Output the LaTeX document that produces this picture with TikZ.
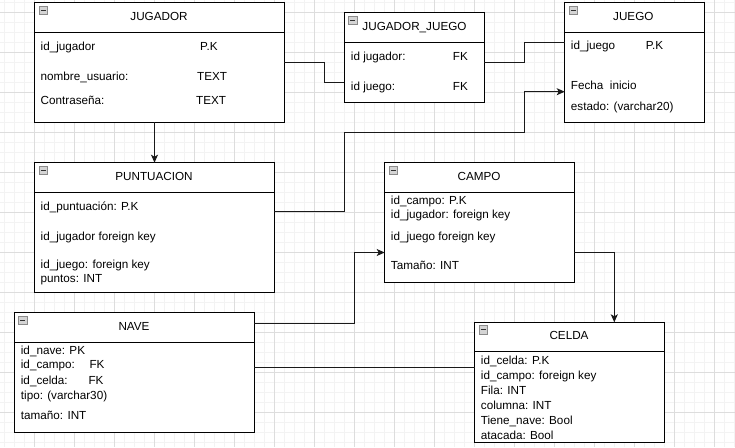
\documentclass[tikz,border=0pt]{standalone}
\usepackage{fontspec}
\setmainfont{Liberation Sans}
\usetikzlibrary{arrows.meta,calc}
\definecolor{gridminor}{HTML}{F3F3F3}
\definecolor{gridmajor}{HTML}{DDDDDD}
\definecolor{icofill}{HTML}{D4D4D4}
\definecolor{icodraw}{HTML}{8A8A8A}
\newcommand\ertable[7]{%
  \node[tbl,minimum width={#4-#2},minimum height={#5-#3}] (#1) at (#2,#3) {};
  \draw[line width=1pt] (#2,#3+29.6) -- (#4,#3+29.6);
  \node[ico] (#1i) at (#2+4.3,#3+3.3) {};
  \draw[line width=1.2pt,black!80] ($(#1i.west)+(1.8,0)$) -- ($(#1i.east)+(-1.8,0)$);
  \node[ttl] (#1t) at (#7,#3+14.3) {#6};}
\begin{document}
\begin{tikzpicture}[x=1pt,y=-1pt,
  tbl/.style={draw=black,line width=1pt,fill=white,inner sep=0,outer sep=0,anchor=north west},
  fld/.style={anchor=west,inner sep=0,font=\fontsize{11.7}{13}\selectfont,text height=8.5pt,text depth=2.5pt},
  ttl/.style={inner sep=0,font=\fontsize{11.7}{13}\selectfont,text height=8.5pt,text depth=2.5pt},
  conn/.style={line width=1pt,draw=black!90},
  arr/.style={conn,-{Stealth[length=8pt,width=7pt,inset=2pt]}},
  ico/.style={draw=icodraw,fill=icofill,line width=0.7pt,minimum size=8.5pt,inner sep=0,outer sep=0,anchor=north west}]
\useasboundingbox (0,0) rectangle (735,447);
\fill[white] (0,0) rectangle (735,447);
% grid
\foreach \x in {4.3,14.3,...,734.3} \draw[gridminor,line width=0.8pt] (\x,0) -- (\x,447);
\foreach \y in {2.3,12.3,...,446.3} \draw[gridminor,line width=0.8pt] (0,\y) -- (735,\y);
\foreach \x in {34.3,74.3,...,714.3} \draw[gridmajor,line width=0.8pt] (\x,0) -- (\x,447);
\foreach \y in {12.3,52.3,...,412.3} \draw[gridmajor,line width=0.8pt] (0,\y) -- (735,\y);

% tables
\ertable{jug}{34.7}{2.7}{284.3}{122}{JUGADOR}{159}
\ertable{jj}{344.3}{12.7}{484.3}{102}{JUGADOR\_JUEGO}{414.5}
\ertable{juego}{564.7}{2.7}{704.3}{122}{JUEGO}{633.3}
\ertable{punt}{34.7}{162.7}{274.3}{292.3}{PUNTUACION}{154}
\ertable{campo}{384.7}{162.7}{574.3}{282.3}{CAMPO}{479}
\ertable{nave}{14.3}{312.7}{254.3}{432.3}{NAVE}{134}
\ertable{celda}{474.7}{322.3}{664.3}{442.3}{CELDA}{569}

% JUGADOR fields
\node[fld] (jug1) at (40.5,47) {id\_jugador};
\node[fld] (jug1b) at (200,47) {P.K};
\node[fld] (jug2) at (40.5,77) {nombre\_usuario:};
\node[fld] (jug2b) at (197,77) {TEXT};
\node[fld] (jug3) at (40.5,101) {Contraseña:};
\node[fld] (jug3b) at (196,101) {TEXT};
% JUGADOR_JUEGO fields
\node[fld] (jj1) at (350.7,57.3) {id jugador:};
\node[fld] (jj1b) at (452.7,57.3) {FK};
\node[fld] (jj2) at (350.7,87.3) {id juego:};
\node[fld] (jj2b) at (452.7,87.3) {FK};
% JUEGO fields
\node[fld] (ju1) at (570.7,46.7) {id\_juego};
\node[fld] (ju1b) at (645.7,46.7) {P.K};
\node[fld] (ju2) at (570.7,86) {Fecha\ \ inicio};
\node[fld] (ju3) at (570.7,107.3) {estado: (varchar20)};
% PUNTUACION fields
\node[fld] (pu1) at (40.5,207.3) {id\_puntuación: P.K};
\node[fld] (pu2) at (40.5,237.3) {id\_jugador foreign key};
\node[fld] (pu3) at (40.5,265) {id\_juego: foreign key};
\node[fld] (pu4) at (40.5,279.3) {puntos: INT};
% CAMPO fields
\node[fld] (ca1) at (390.7,201.7) {id\_campo: P.K};
\node[fld] (ca2) at (390.7,215.7) {id\_jugador: foreign key};
\node[fld] (ca3) at (390.7,237.3) {id\_juego foreign key};
\node[fld] (ca4) at (390.7,266.7) {Tamaño: INT};
% NAVE fields
\node[fld] (na1) at (20.7,351.7) {id\_nave: PK};
\node[fld] (na2) at (20.7,365.7) {id\_campo:};
\node[fld] (na2b) at (89.3,365.7) {FK};
\node[fld] (na3) at (20.7,381) {id\_celda:};
\node[fld] (na3b) at (88.3,381) {FK};
\node[fld] (na4) at (20.7,396) {tipo: (varchar30)};
\node[fld] (na5) at (20.7,416.7) {tamaño: INT};
% CELDA fields
\node[fld] (ce1) at (480.7,361.7) {id\_celda: P.K};
\node[fld] (ce2) at (480.7,376) {id\_campo: foreign key};
\node[fld] (ce3) at (480.7,391) {Fila: INT};
\node[fld] (ce4) at (480.7,406) {columna: INT};
\node[fld] (ce5) at (480.7,421.7) {Tiene\_nave: Bool};
\node[fld] (ce6) at (480.7,436) {atacada: Bool};

% connectors
\draw[arr] (154.5,0 |- jug.south) -- (154.5,0 |- punt.north);
\draw[conn] (jug.east |- 0,62) -- (324.3,62) |- (jj.west |- 0,82.3);
\draw[conn] (jj.east |- 0,62.3) -- (524.3,62.3) |- (juego.west |- 0,42.7);
\draw[arr] (punt.east |- 0,211.7) -- (344.3,211.7) |- (524.3,132.3) |- (juego.west |- 0,91.7);
\draw[arr] (nave.east |- 0,323.3) -- (354.3,323.3) |- (campo.west |- 0,252.5);
\draw[arr] (campo.east |- 0,252.3) -| (614.3,0 |- celda.north);
\draw[conn] (nave.east |- 0,367.7) -- (celda.west |- 0,367.7);
\end{tikzpicture}
\end{document}
